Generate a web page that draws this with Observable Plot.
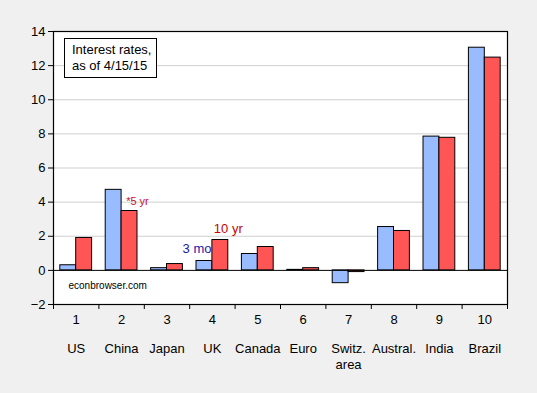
<!DOCTYPE html>
<html>
<head>
<meta charset="utf-8">
<script src="https://cdn.jsdelivr.net/npm/d3@7"></script>
<script src="https://cdn.jsdelivr.net/npm/@observablehq/plot@0.6"></script>
<style>
  html, body { margin: 0; padding: 0; background: #f0f0f0; }
  #wrap { position: relative; width: 537px; height: 393px; font-family: "Liberation Sans", Arial, sans-serif; }
  #legend { position: absolute; left: 64px; top: 38px; width: 93px; height: 40px; box-sizing: border-box;
    border: 1px solid #000; background: #fff; font-size: 13px; line-height: 16px; padding: 3px 0 0 7px; color: #000; }
</style>
</head>
<body>
<div id="wrap"><div id="legend">Interest rates,<br>as of 4/15/15</div></div>
<script>
const categories = ["US", "China", "Japan", "UK", "Canada", "Euro", "Switz.\narea", "Austral.", "India", "Brazil"];
const tickLabels = ["1", "2", "3", "4", "5", "6", "7", "8", "9", "10"];
const shortRates = [0.30, 4.72, 0.13, 0.55, 0.96, 0.03, -0.75, 2.54, 7.84, 13.05];
const longRates  = [1.90, 3.48, 0.37, 1.78, 1.37, 0.13, -0.10, 2.31, 7.77, 12.47];
const yTicks = [-2, 0, 2, 4, 6, 8, 10, 12, 14];
const gridValues = [2, 4, 6, 8, 10, 12];
const notes = [
  {text: "*5 yr", x: 2.1, y: 4.05, color: "#c8102e", anchor: "start", size: 11},
  {text: "10 yr", x: 4.35, y: 2.46, color: "#cc0000", anchor: "middle", size: 13},
  {text: "3 mo", x: 3.98, y: 1.27, color: "#1a1aaa", anchor: "end", size: 13}
];

const idx = categories.map((_, i) => i + 1);
const bars = [];
idx.forEach((k, i) => {
  bars.push({k, series: "short", value: shortRates[i]});
  bars.push({k, series: "long", value: longRates[i]});
});
const half = 0.35;

const noteMarks = ["start", "middle", "end"].map(a =>
  Plot.text(notes.filter(n => n.anchor === a), {
    x: "x", y: "y", text: "text", fill: d => d.color, textAnchor: a, fontSize: "size"
  })
);

const chart = Plot.plot({
  width: 537,
  height: 393,
  marginLeft: 53,
  marginRight: 30,
  marginTop: 31,
  marginBottom: 89,
  style: {background: "transparent", fontFamily: "'Liberation Sans', Arial, sans-serif", color: "#000"},
  x: {domain: [0.5, 10.5]},
  y: {domain: [-2, 14]},
  marks: [
    Plot.frame({fill: "white", stroke: null}),
    Plot.ruleY(gridValues, {stroke: "#cfcfcf", strokeWidth: 1}),
    Plot.rectY(bars, {
      x1: d => d.series === "short" ? d.k - half : d.k,
      x2: d => d.series === "short" ? d.k : d.k + half,
      y1: 0,
      y2: "value",
      fill: d => d.series === "short" ? "#99bbff" : "#ff5555",
      stroke: "#000",
      strokeWidth: 1
    }),
    Plot.ruleY([0], {stroke: "#000", strokeWidth: 1}),
    Plot.frame({stroke: "#000", strokeWidth: 1.2}),
    Plot.axisY(yTicks, {tickSize: 5, tickPadding: 3, fontSize: 13, label: null}),
    Plot.axisX(d3.range(0.5, 10.6, 1), {tickSize: 5, tickFormat: () => "", label: null}),
    Plot.axisX(idx, {tickSize: 0, tickPadding: 10, fontSize: 13, tickFormat: k => tickLabels[k - 1], label: null}),
    Plot.text(idx, {x: d => d, y: -2, dy: 37, text: d => categories[d - 1], lineAnchor: "top", lineHeight: 1.23, fontSize: 13, fill: "#000", clip: false}),
    ...noteMarks,
    Plot.text(["econbrowser.com"], {frameAnchor: "bottom-left", dx: 15, dy: -16, text: d => d, fontSize: 10, fill: "#000", letterSpacing: "0.4px"})
  ]
});
chart.style.position = "absolute";
chart.style.left = "0";
chart.style.top = "0";
const wrap = document.getElementById("wrap");
wrap.insertBefore(chart, wrap.firstChild);
</script>
</body>
</html>
